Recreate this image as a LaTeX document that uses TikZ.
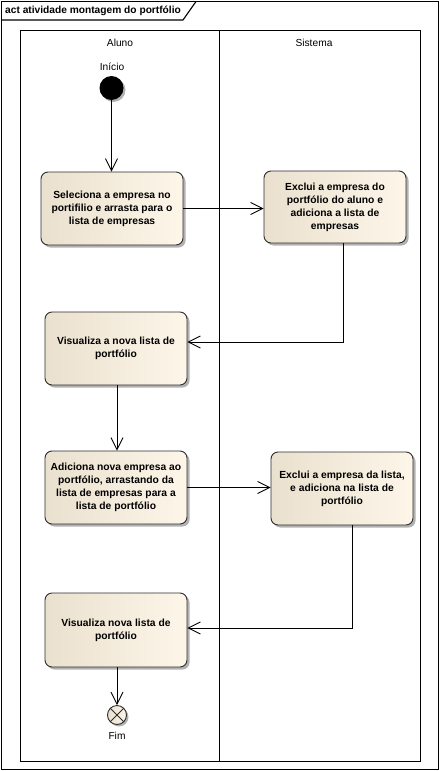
\documentclass[tikz,border=0pt]{standalone}
\usepackage{fontspec}
\setmainfont{Liberation Sans}
\usetikzlibrary{arrows.meta,shadows,calc}
\definecolor{beigeL}{RGB}{234,224,206}
\definecolor{beigeR}{RGB}{253,246,233}
\definecolor{edge}{RGB}{45,45,45}
\begin{document}
\begin{tikzpicture}[x=1pt,y=-1pt,
  frameline/.style={line width=1.1pt,draw=black},
  lbl/.style={font=\fontsize{10.2}{12}\selectfont, inner sep=0pt},
  act/.style={draw=edge, line width=0.9pt, rounded corners=7pt,
    minimum width=142pt, minimum height=73pt, align=center,
    font=\fontsize{10.3}{13}\selectfont\bfseries,
    left color=beigeL, right color=beigeR,
    drop shadow={shadow xshift=2.5pt, shadow yshift=-2.5pt, opacity=0.3, fill=black}},
  flow/.style={line width=0.9pt, draw=black, -{Straight Barb[length=12pt,width=12pt]}},
  initnode/.style={circle, fill=black, minimum size=24pt, inner sep=0pt,
    drop shadow={shadow xshift=2pt, shadow yshift=-2pt, opacity=0.3, fill=black}},
  finalnode/.style={circle, draw=edge, line width=0.9pt, minimum size=19pt, inner sep=0pt,
    left color=beigeL, right color=beigeR,
    drop shadow={shadow xshift=2pt, shadow yshift=-2pt, opacity=0.3, fill=black}}
]
\useasboundingbox (0,0) rectangle (440,771);
\fill[white] (0,0) rectangle (440,771);
% frame
\draw[frameline] (1.5,1.5) rectangle (438.5,769.5);
\draw[frameline] (1.5,20) -- (183,20) -- (196,1.5);
\node[anchor=west, font=\fontsize{10.2}{12}\selectfont\bfseries, inner sep=0pt] (title) at (5,10.5) {act atividade montagem do portfólio};
% partitions
\draw[frameline] (20.5,30.7) rectangle (420.3,761.3);
\draw[frameline] (219.5,30.7) -- (219.5,761.3);
\node[lbl] (aluno) at (120,43) {Aluno};
\node[lbl] (sistema) at (314,43) {Sistema};
% nodes
\node[initnode] (ini) at (111.5,88) {};
\node[lbl] (inilbl) at (112,67) {Início};
\node[act] (a1) at (112,208.5) {Seleciona a empresa no\\portifilio e arrasta para o\\lista de empresas};
\node[act, minimum height=72pt] (a2) at (335,207) {Exclui a empresa do\\portfólio do aluno e\\adiciona a lista de\\empresas};
\node[act] (a3) at (116,348.5) {Visualiza a nova lista de\\portfólio};
\node[act] (a4) at (116,487.5) {Adiciona nova empresa ao\\portfólio, arrastando da\\lista de empresas para a\\lista de portfólio};
\node[act] (a5) at (342,488.5) {Exclui a empresa da lista,\\e adiciona na lista de\\portfólio};
\node[act, minimum height=74pt] (a6) at (116,630) {Visualiza nova lista de\\portfólio};
\node[finalnode] (fim) at (117,715) {};
\draw[edge, line width=0.9pt] (fim.45) -- (fim.225) (fim.135) -- (fim.315);
\node[lbl] (fimlbl) at (117,736) {Fim};
% connectors
\draw[flow] (ini.south) -- (ini.south |- a1.north);
\draw[flow] (a1.east) -- (a1.east -| a2.west);
\draw[flow] ([xshift=8pt]a2.south) |- ([yshift=6.5pt]a3.east);
\draw[flow] ([xshift=1pt]a3.south) -- ([xshift=1pt]a3.south |- a4.north);
\draw[flow] (a4.east) -- (a4.east -| a5.west);
\draw[flow] ([xshift=10pt]a5.south) |- ([yshift=2pt]a6.east);
\draw[flow] ([xshift=1pt]a6.south) -- (fim.north);
\end{tikzpicture}
\end{document}
